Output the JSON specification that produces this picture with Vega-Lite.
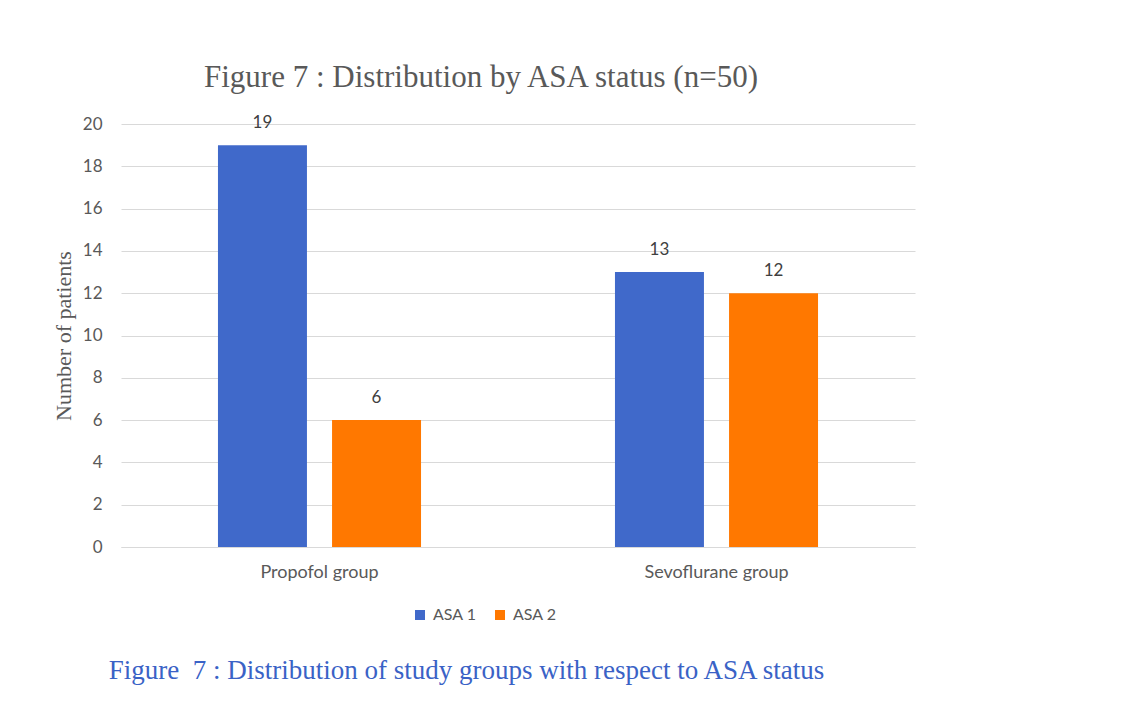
{
  "$schema": "https://vega.github.io/schema/vega-lite/v6.json",
  "width": 794,
  "height": 423,
  "autosize": {"type": "none"},
  "padding": {"left": 121, "top": 124, "right": 227, "bottom": 158},
  "background": "white",
  "title": {
    "text": "Figure 7 : Distribution by ASA status (n=50)",
    "font": "Liberation Serif",
    "fontSize": 31,
    "fontWeight": "normal",
    "color": "#595959",
    "anchor": "middle",
    "dx": -37,
    "offset": 20
  },
  "data": {
    "values": [
      {"group": "Propofol group", "status": "ASA 1", "patients": 19},
      {"group": "Propofol group", "status": "ASA 2", "patients": 6},
      {"group": "Sevoflurane group", "status": "ASA 1", "patients": 13},
      {"group": "Sevoflurane group", "status": "ASA 2", "patients": 12}
    ]
  },
  "encoding": {
    "x": {
      "field": "group",
      "type": "nominal",
      "sort": ["Propofol group", "Sevoflurane group"],
      "scale": {"paddingInner": 0, "paddingOuter": 0},
      "axis": {
        "title": "Figure \u00a07 : Distribution of study groups with respect to ASA status",
        "titleFont": "Liberation Serif",
        "titleFontSize": 27,
        "titleFontWeight": "normal",
        "titleColor": "#3A62C6",
        "titleX": 345,
        "titleY": 131,
        "titleBaseline": "alphabetic",
        "labelAngle": 0,
        "labelFont": "Lato",
        "labelFontSize": 18,
        "labelColor": "#595959",
        "labelPadding": 16,
        "ticks": false,
        "domainColor": "#d9d9d9",
        "domainWidth": 1
      }
    },
    "xOffset": {
      "field": "status",
      "type": "nominal",
      "scale": {"paddingInner": 0.22, "paddingOuter": 0.85}
    },
    "y": {
      "field": "patients",
      "type": "quantitative",
      "scale": {"domain": [0, 20]},
      "axis": {
        "values": [0, 2, 4, 6, 8, 10, 12, 14, 16, 18, 20],
        "title": "Number of patients",
        "titleFont": "Liberation Serif",
        "titleFontSize": 22,
        "titleFontWeight": "normal",
        "titleColor": "#595959",
        "titlePadding": 7,
        "labelFont": "Lato",
        "labelFontSize": 17,
        "labelColor": "#595959",
        "labelPadding": 19,
        "ticks": false,
        "domain": false,
        "gridColor": "#d9d9d9",
        "gridWidth": 1
      }
    }
  },
  "layer": [
    {
      "mark": {"type": "bar"},
      "encoding": {
        "color": {
          "field": "status",
          "type": "nominal",
          "scale": {"domain": ["ASA 1", "ASA 2"], "range": ["#4069CA", "#FF7800"]},
          "legend": {
            "title": null,
            "orient": "none",
            "direction": "horizontal",
            "legendX": 291,
            "legendY": 483,
            "symbolType": "square",
            "symbolSize": 100,
            "symbolStrokeWidth": 0,
            "labelFont": "Lato",
            "labelFontSize": 16,
            "labelColor": "#595959",
            "labelOffset": 5,
            "columnPadding": 15
          }
        }
      }
    },
    {
      "mark": {"type": "text", "baseline": "bottom", "dy": -13, "font": "Lato", "fontSize": 17, "color": "#404040"},
      "encoding": {
        "text": {"field": "patients", "type": "quantitative"}
      }
    }
  ],
  "config": {
    "view": {"stroke": null}
  }
}
